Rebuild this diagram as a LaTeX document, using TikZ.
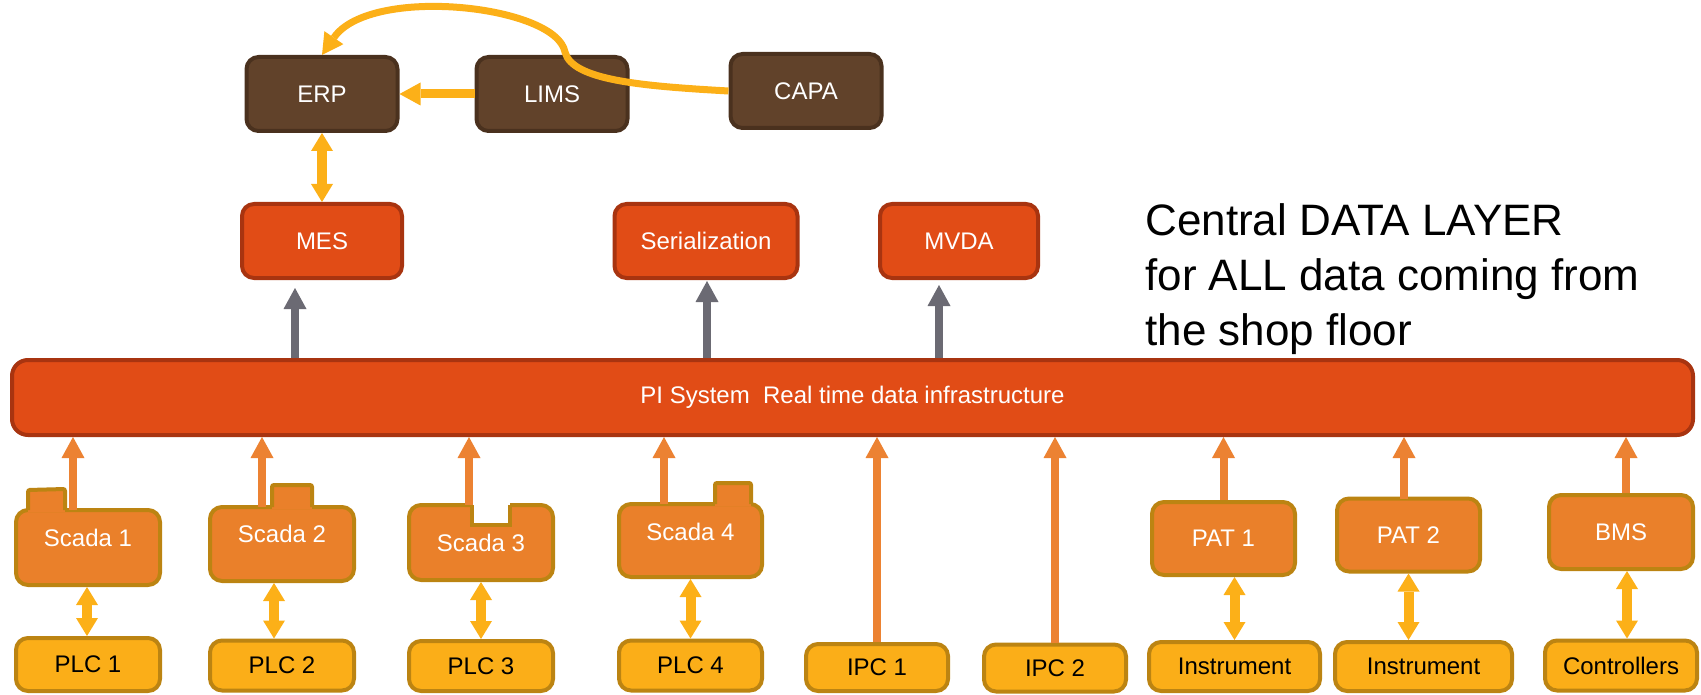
\documentclass[tikz,border=0pt]{standalone}
\usepackage{fontspec}
\setmainfont{Liberation Sans}
\usepackage{xcolor}
\usepackage{tikz}
\usetikzlibrary{arrows.meta}

\definecolor{brownfill}{RGB}{97,66,42}
\definecolor{browndraw}{RGB}{74,49,30}
\definecolor{redfill}{RGB}{225,76,22}
\definecolor{reddraw}{RGB}{168,52,16}
\definecolor{orfill}{RGB}{234,128,42}
\definecolor{golddraw}{RGB}{188,132,18}
\definecolor{ylfill}{RGB}{251,174,24}
\definecolor{ylarrow}{RGB}{252,176,24}
\definecolor{orarrow}{RGB}{236,130,50}
\definecolor{grayarrow}{RGB}{107,106,115}

\tikzset{
	bigtip/.tip={Triangle[width=11.5pt,length=10.5pt,line width=0pt]},
	dbltip/.tip={Triangle[width=11pt,length=9pt,line width=0pt]}
}

\begin{document}
\begin{tikzpicture}[x=0.5pt,y=-0.5pt,
	box/.style={rounded corners=6pt,line width=2pt,inner sep=0pt,
		font=\fontsize{12}{14}\selectfont},
	brownbox/.style={box,fill=brownfill,draw=browndraw,text=white,
		minimum width=75.5pt,minimum height=37pt},
	redbox/.style={box,fill=redfill,draw=reddraw,text=white,minimum height=37pt},
	orbox/.style={box,fill=orfill,draw=golddraw,text=white,
		minimum width=72pt,minimum height=37pt},
	ylbox/.style={box,fill=ylfill,draw=golddraw,text=black,
		minimum width=72pt,minimum height=25pt},
	boxtext/.style={inner sep=0pt,text=white,font=\fontsize{12}{14}\selectfont},
	uparr/.style={color=orarrow,line width=4pt,-bigtip},
	grayarr/.style={color=grayarrow,line width=4pt,-bigtip},
	ylarr/.style={color=ylarrow,line width=4.5pt,-bigtip},
	dblarr/.style={color=ylarrow,line width=5pt,dbltip-dbltip},
	]
	\useasboundingbox (0,0) rectangle (1701,695);
	% business systems
	\node[brownbox] (erp) at (322,94) {ERP};
	\node[brownbox] (lims) at (552,94) {LIMS};
	\node[brownbox] (capa) at (806,91) {CAPA};
	%
	\node[redbox,minimum width=80pt] (mes) at (322,241) {MES};
	\node[redbox,minimum width=91.5pt] (serial) at (706,241) {Serialization};
	\node[redbox,minimum width=79pt] (mvda) at (959,241) {MVDA};
	%
	\node[redbox,rounded corners=8pt,minimum width=840.5pt,minimum height=37.5pt] (pi)
		at (852.5,397.5) {PI System\ \ Real time data infrastructure};
	%
	\node[anchor=north west,inner sep=0pt,align=left,
		font=\fontsize{22}{27.5}\selectfont] (central) at (1145,203)
		{Central DATA LAYER\\for ALL data coming from\\the shop floor};
	% shop floor
	\node[orbox,minimum height=37.5pt] (scada1) at (88,547.5) {};
	\node[orbox,minimum height=37pt] (scada2) at (282,544) {};
	\node[orbox,minimum height=37.5pt] (scada3) at (481,542.5) {};
	\node[orbox,minimum width=71.5pt,minimum height=36.5pt] (scada4) at (690.5,540.5) {};
	\node[orbox,minimum width=71.5pt,minimum height=36.5pt] (pat1) at (1223.5,538.5) {PAT 1};
	\node[orbox,minimum width=71.5pt,minimum height=36.5pt] (pat2) at (1408.5,535) {PAT 2};
	\node[orbox,minimum height=37pt] (bms) at (1621,532) {BMS};
	%
	\fill[orfill] (28,489) rectangle (65,512);
	\draw[golddraw,line width=2pt,rounded corners=1pt] (28,510) -- (28,490) -- (65,489) -- (65,510);
	\fill[orfill] (272,485) rectangle (312,509);
	\draw[golddraw,line width=2pt,rounded corners=1pt] (272,507) -- (272,485) -- (312,485) -- (312,507);
	\fill[white] (472,500) rectangle (510,523);
	\draw[golddraw,line width=2pt] (472,505) -- (472,525) -- (510,525) -- (510,505);
	\fill[orfill] (715,483) rectangle (751,506);
	\draw[golddraw,line width=2pt,rounded corners=1pt] (715,504) -- (715,483) -- (751,483) -- (751,504);
	%
	\node[boxtext] (scada1txt) at (88,538) {Scada 1};
	\node[boxtext] (scada2txt) at (282,534) {Scada 2};
	\node[boxtext] (scada3txt) at (481,543) {Scada 3};
	\node[boxtext] (scada4txt) at (690.5,532) {Scada 4};
	%
	\node[ylbox,minimum height=26.5pt] (plc1) at (88,664.5) {PLC 1};
	\node[ylbox] (plc2) at (282,665.5) {PLC 2};
	\node[ylbox] (plc3) at (481,666) {PLC 3};
	\node[ylbox,minimum width=71.5pt] (plc4) at (690.5,665.5) {PLC 4};
	\node[ylbox,minimum width=71pt,minimum height=23.5pt] (ipc1) at (877,667.5) {IPC 1};
	\node[ylbox,minimum width=71pt,minimum height=23.5pt] (ipc2) at (1055,668) {IPC 2};
	\node[ylbox,minimum width=85.5pt,minimum height=24.5pt] (instr1) at (1234.5,666.5) {Instrument};
	\node[ylbox,minimum width=88.5pt,minimum height=24.5pt] (instr2) at (1423.5,666.5) {Instrument};
	\node[ylbox,minimum width=76pt] (ctrl) at (1621,665.5) {Controllers};
	% data flow up
	\coordinate (s1up) at (73,510);
	\coordinate (s2up) at (262,507);
	\coordinate (s3up) at (469,505);
	\coordinate (s4up) at (664,504);
	\coordinate (p2up) at (1404,499);
	\coordinate (mesin) at (295,288);
	\coordinate (serin) at (707,281);
	\coordinate (mvdain) at (939,285);
	%
	\path[uparr]
		(s1up) edge (s1up |- pi.south)
		(s2up) edge (s2up |- pi.south)
		(s3up) edge (s3up |- pi.south)
		(s4up) edge (s4up |- pi.south)
		(ipc1.north) edge (ipc1.north |- pi.south)
		(ipc2.north) edge (ipc2.north |- pi.south)
		(pat1.north) edge (pat1.north |- pi.south)
		(p2up) edge (p2up |- pi.south)
		([xshift=2.5pt]bms.north) edge ([xshift=2.5pt]bms.north |- pi.south);
	%
	\path[grayarr]
		(mesin |- pi.north) edge (mesin)
		(serin |- pi.north) edge (serin)
		(mvdain |- pi.north) edge (mvdain);
	%
	\path[dblarr]
		(erp.south) edge (mes.north)
		([xshift=-0.5pt]scada1.south) edge ([xshift=-0.5pt]plc1.north)
		([xshift=-4pt]scada2.south) edge ([xshift=-4pt]plc2.north)
		(scada3.south) edge (plc3.north)
		(scada4.south) edge (plc4.north)
		(pat1.south -| instr1.north) edge (instr1.north)
		(pat2.south) edge (pat2.south |- instr2.north)
		([xshift=3pt]bms.south) edge ([xshift=3pt]ctrl.north);
	% lab and quality data
	\path[ylarr] (lims.west) edge (erp.east);
	\draw[ylarr,line width=3.5pt] (capa.west) .. controls (640,86) and (572,80) .. (565,52)
		.. controls (556,5) and (370,-15) .. (erp.north);
\end{tikzpicture}
\end{document}
